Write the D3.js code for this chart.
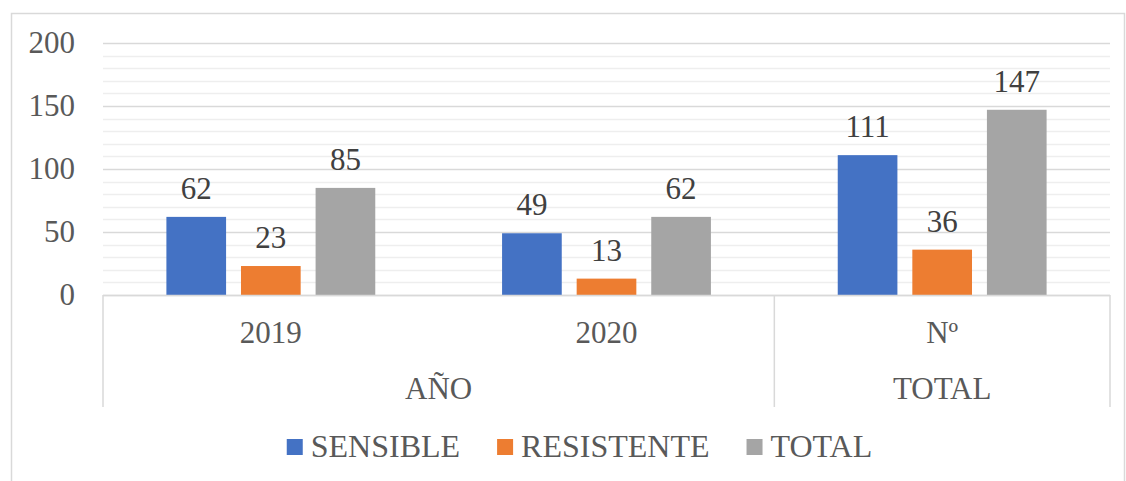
<!DOCTYPE html>
<html>
<head>
<meta charset="utf-8">
<script src="https://cdnjs.cloudflare.com/ajax/libs/d3/7.9.0/d3.min.js"></script>
<style>
  html, body { margin: 0; padding: 0; background: #fff; }
  svg { display: block; }
</style>
</head>
<body>
<svg id="chart" width="1126" height="481"></svg>
<script>
// data
const categories = ['2019', '2020', 'Nº'];
const groups = [
  { name: 'AÑO', from: '2019', to: '2020' },
  { name: 'TOTAL', from: 'Nº', to: 'Nº' }
];
const seriesNames = ['SENSIBLE', 'RESISTENTE', 'TOTAL'];
const sensible = [62, 49, 111];
const resistente = [23, 13, 36];
const total = [85, 62, 147];
const yTicks = [0, 50, 100, 150, 200];
const minorTicks = d3.range(0, 201, 10);

const FONT = 'Liberation Serif';
const FS = 31;
const COLORS = ['#4472C4', '#ED7D31', '#A5A5A5'];
const TEXT = '#595959';
const LABEL = '#404040';
const GRID = '#d9d9d9';
const MINOR = '#eeeeee';

const seriesValues = [sensible, resistente, total];

const svg = d3.select('#chart');
const plotL = 103, plotR = 1110, plotT = 43, plotB = 295;

// chart border
svg.append('rect')
  .attr('x', 11.5).attr('y', 13.5).attr('width', 1113).attr('height', 490)
  .attr('fill', 'none').attr('stroke', GRID).attr('stroke-width', 1.5);

const x0 = d3.scaleBand().domain(categories).range([plotL, plotR]);
const x1 = d3.scaleBand().domain(seriesNames).range([0, x0.bandwidth()])
  .paddingInner(0.2).paddingOuter(0.85);
const y = d3.scaleLinear().domain([0, 200]).range([plotB, plotT]);

// minor grid
svg.append('g').selectAll('line').data(minorTicks.filter(t => t % 50 !== 0)).join('line')
  .attr('x1', plotL).attr('x2', plotR)
  .attr('y1', d => Math.round(y(d)) + 0.5).attr('y2', d => Math.round(y(d)) + 0.5)
  .attr('stroke', MINOR).attr('stroke-width', 1.5);

// major grid + y labels
const yAxis = d3.axisLeft(y).tickValues(yTicks).tickSize(-(plotR - plotL)).tickPadding(28);
const ya = svg.append('g').attr('transform', `translate(${plotL},0)`).call(yAxis)
  .attr('font-family', FONT).attr('font-size', FS);
ya.select('.domain').remove();
ya.selectAll('.tick line').attr('stroke', GRID).attr('stroke-width', 1.5);
ya.selectAll('.tick text').attr('fill', TEXT).attr('font-family', FONT).attr('font-size', FS);

// bars
const barG = svg.append('g');
categories.forEach((c, ci) => {
  seriesNames.forEach((s, si) => {
    const v = seriesValues[si][ci];
    const bx = x0(c) + x1(s);
    barG.append('rect')
      .attr('x', bx).attr('y', y(v))
      .attr('width', x1.bandwidth()).attr('height', plotB - y(v))
      .attr('fill', COLORS[si]);
    barG.append('text')
      .attr('x', bx + x1.bandwidth() / 2).attr('y', y(v) - 18)
      .attr('text-anchor', 'middle').attr('fill', LABEL)
      .attr('font-family', FONT).attr('font-size', FS).text(v);
  });
});

// category axis (two levels)
const axG = svg.append('g');
axG.append('line').attr('x1', plotL).attr('x2', plotR)
  .attr('y1', plotB + 0.5).attr('y2', plotB + 0.5)
  .attr('stroke', GRID).attr('stroke-width', 1.5);

const seps = [plotL, ...groups.map(g => x0(g.to) + x0.bandwidth())];
axG.selectAll('line.sep').data(seps).join('line').attr('class', 'sep')
  .attr('x1', d => d).attr('x2', d => d)
  .attr('y1', plotB).attr('y2', 407)
  .attr('stroke', GRID).attr('stroke-width', 1.5);

axG.selectAll('text.cat').data(categories).join('text').attr('class', 'cat')
  .attr('x', d => x0(d) + x0.bandwidth() / 2).attr('y', 343)
  .attr('text-anchor', 'middle').attr('fill', TEXT)
  .attr('font-family', FONT).attr('font-size', FS).text(d => d);

axG.selectAll('text.grp').data(groups).join('text').attr('class', 'grp')
  .attr('x', d => (x0(d.from) + x0(d.to) + x0.bandwidth()) / 2).attr('y', 399)
  .attr('text-anchor', 'middle').attr('fill', TEXT)
  .attr('font-family', FONT).attr('font-size', FS).text(d => d.name);

// legend
const leg = svg.append('g');
const items = seriesNames.map((s, i) => {
  const g = leg.append('g');
  g.append('rect').attr('x', 0).attr('y', 439).attr('width', 16).attr('height', 16)
    .attr('fill', COLORS[i]);
  const t = g.append('text').attr('x', 24).attr('y', 457)
    .attr('fill', TEXT).attr('font-family', FONT).attr('font-size', 32).text(s);
  return { g, w: 24 + t.node().getComputedTextLength() };
});
const gap = 37;
const totalW = d3.sum(items, d => d.w) + gap * (items.length - 1);
let lx = 579.5 - totalW / 2;
items.forEach(it => {
  it.g.attr('transform', `translate(${lx},0)`);
  lx += it.w + gap;
});
</script>
</body>
</html>
